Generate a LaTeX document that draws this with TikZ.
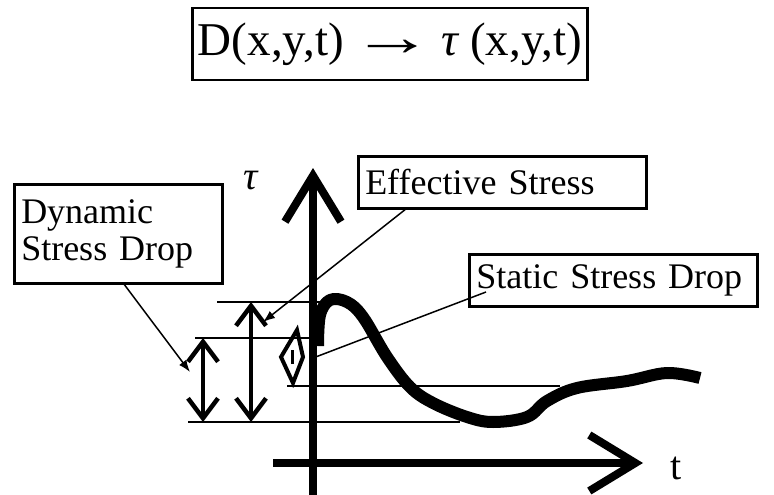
\documentclass[tikz,border=0pt]{standalone}
\usepackage{fontspec}
\setmainfont{Liberation Serif}
\usetikzlibrary{arrows.meta}

\begin{document}
\begin{tikzpicture}[x=1pt,y=-1pt,
    box/.style={draw,line width=2.5pt,inner xsep=7pt,inner ysep=0pt,
      align=left,anchor=north west,font=\fontsize{36}{37}\selectfont},
    osa/.style={line width=8pt,-{Straight Barb[length=46pt,width=56pt]}},
    dvoj/.style={line width=4.5pt,
      {Straight Barb[length=20pt,width=30pt]}-{Straight Barb[length=20pt,width=30pt]}},
    pin/.style={line width=1.5pt,-{Latex[length=12pt,width=9pt]}},
    tenka/.style={line width=1.5pt}]
        \useasboundingbox (0,0) rectangle (774,495);

        % vzorec nahore
        \node[draw,line width=2.5pt,minimum width=395pt,minimum height=72pt,
          font=\fontsize{47}{47}\selectfont] (vzorec) at (390,44)
          {D(x,y,t)\,\scalebox{1.75}[1.15]{→}\,{\itshape τ} (x,y,t)};

        % popisky
        \node[box,text width=194pt,minimum height=99pt] (dsd) at (13,183)
          {Dynamic\\Stress Drop};
        \node[box,text width=274pt,minimum height=52pt] (es) at (357,155)
          {Effective Stress};
        \node[box,text width=274pt,minimum height=52pt] (ssd) at (468,253)
          {Static Stress Drop};

        % urovne napeti
        \draw[tenka] (217,302) -- (320,302);
        \draw[tenka] (195,338) -- (313,338);
        \draw[tenka] (287,386) -- (560,386);
        \draw[tenka] (188,422) -- (460,422);

        % osy
        \draw[osa] (313,495) -- (313,168) coordinate (tauosa);
        \draw[osa] (273,463) -- (643,463) coordinate (tosa);
        \node[font=\fontsize{40}{40}\selectfont\itshape] (taulbl) at (251,181) {τ};
        \node[font=\fontsize{40}{40}\selectfont] (tlbl) at (676,468) {t};

        % poklesy napeti
        \draw[dvoj] (203,338) -- (203,422);
        \draw[dvoj] (251,302) -- (251,422);
        \draw[line width=4pt,line join=miter]
          (297,330) -- (303,357) -- (293,383) -- (281,357) -- cycle;
        \draw[line width=3pt] (292,350) -- (292,364);

        % prubeh napeti
        \draw[line width=12pt,line join=round] plot[smooth,tension=0.6] coordinates {
          (318,346) (320,315) (330,300) (347,302) (363,317) (387,357)
          (410,387) (433,403) (467,417) (493,422) (527,417) (547,401)
          (577,388) (627,381) (667,373) (700,378)};

        % odkazy
        \coordinate (dsdtip) at (190,372);
        \coordinate (estip) at (263,322);
        \coordinate (ssdpin) at (486,292);
        \coordinate (ssdtip) at (313,358);
        \draw[pin] (dsd.south) ++(6,0) -- (dsdtip);
        \draw[pin] (es.south) ++(-97,0) -- (estip);
        \draw[tenka] (ssdpin) -- (ssdtip);
\end{tikzpicture}
\end{document}
